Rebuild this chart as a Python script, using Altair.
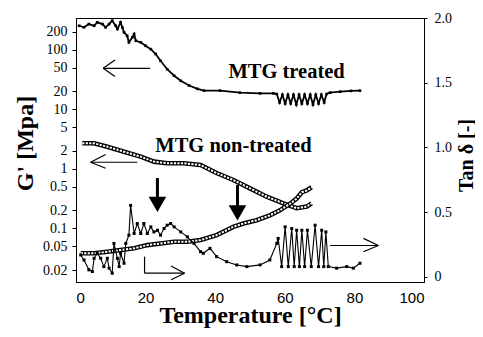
import altair as alt
import pandas as pd

# ---------------- data ----------------
# MTG treated, G' [MPa] (left, log axis)
tr_g_x = [0.9, 2.3, 3.7, 5.2, 6.1, 7.6, 8.5, 9.5, 10.4, 11.4, 11.9, 12.8, 13.3, 13.8, 14.7, 15.2,
          16.2, 16.7, 17.2, 18.6, 20.0, 21.5, 22.9, 24.3, 26.2, 28.2, 30.1, 32.5, 34.9, 36.8,
          41.4, 47.1, 52.9, 56.7, 57.7, 58.5, 59.3, 60.1, 60.9, 61.7, 62.5, 63.3, 64.1, 64.9,
          65.7, 66.5, 67.3, 68.1, 68.9, 69.7, 70.5, 71.3, 72.0, 73.0, 75.9, 79.0, 81.6]
tr_g_y = [252, 237, 269, 252, 288, 269, 237, 269, 306, 252, 222, 288, 237, 195, 171, 133,
          161, 183, 141, 133, 116, 102, 84.5, 65, 47, 36.5, 30, 25, 22, 20.5,
          20.5, 19, 18.5, 18.5, 18, 13, 17.5, 12.5, 17.5, 12.5, 17.5, 12, 17.5, 12.5,
          17.5, 12.5, 17.5, 12, 17.5, 12.5, 17.5, 13, 18, 19, 19.7, 20.3, 20.5]

# MTG non-treated, G' [MPa] (left, log axis)
nt_g_x = [1.8, 5.2, 9.0, 13.8, 18.6, 22.4, 26.2, 31.0, 35.8, 40.4, 45.2, 50.0, 54.8, 59.6, 63.4, 66.3, 67.7]
nt_g_y = [2.68, 2.68, 2.35, 1.94, 1.60, 1.32, 1.24, 1.24, 1.16, 0.85, 0.65, 0.47, 0.34, 0.264, 0.218, 0.232, 0.264]

# MTG non-treated, tan delta (right axis)
nt_t_x = [1.35, 5.2, 9.0, 12.8, 16.7, 20.5, 24.3, 28.2, 32.0, 35.8, 40.4, 45.2, 48.1, 51.9, 55.7,
          58.6, 61.5, 63.4, 64.9, 66.3, 67.7]
nt_t_y = [0.182, 0.182, 0.194, 0.207, 0.220, 0.245, 0.258, 0.271, 0.271, 0.284, 0.322, 0.386, 0.412,
          0.437, 0.475, 0.514, 0.565, 0.604, 0.654, 0.667, 0.692]

# MTG treated, tan delta (right axis)
tr_t_x = [1.35, 2.3, 3.7, 4.7, 5.2, 6.1, 7.1, 8.0, 9.0, 9.5, 10.4, 10.9, 11.9, 12.4, 12.8, 13.8,
          14.3, 15.2, 15.7, 16.7, 17.6, 18.6, 19.5, 20.5, 21.5, 22.4, 23.4, 24.3, 25.3, 26.2,
          27.2, 28.2, 30.1, 32.0, 33.9, 35.8, 36.6, 38.5, 40.4, 43.3, 46.2, 49.1, 52.9, 55.7,
          57.7, 58.1, 59.1, 60.1, 61.0, 62.0, 62.7, 63.4, 64.2, 64.9, 65.7, 66.5, 67.6, 68.7,
          69.7, 70.6, 71.2, 71.8, 72.5, 74.9, 77.8, 79.7, 81.6]
tr_t_y = [0.169, 0.130, 0.054, 0.041, 0.143, 0.182, 0.143, 0.079, 0.143, 0.067, 0.028, 0.258,
          0.143, 0.079, 0.182, 0.105, 0.258, 0.322, 0.552, 0.335, 0.412, 0.335, 0.412, 0.335,
          0.386, 0.347, 0.360, 0.322, 0.373, 0.399, 0.412, 0.386, 0.347, 0.309, 0.258, 0.194,
          0.182, 0.220, 0.156, 0.117, 0.092, 0.079, 0.092, 0.130, 0.258, 0.297, 0.079, 0.386,
          0.079, 0.373, 0.079, 0.360, 0.079, 0.360, 0.079, 0.360, 0.079, 0.399, 0.079, 0.360,
          0.079, 0.347, 0.079, 0.067, 0.079, 0.067, 0.105]

# annotations
label_text = ["MTG treated", "MTG non-treated"]
label_x = [43.8, 22.8]
label_y = [33.0, 1.94]

# thin arrows on G' scale: x, y, x2, y2
g_arrow_x = [7.8, 7.8, 7.8, 4.2, 4.2, 4.2]
g_arrow_y = [48.6, 48.6, 48.6, 1.29, 1.29, 1.29]
g_arrow_x2 = [21.3, 11.2, 11.2, 17.6, 8.5, 8.5]
g_arrow_y2 = [48.6, 67.0, 35.3, 1.29, 1.74, 1.02]

# thin arrows on tan delta scale
t_arrow_x = [19.7, 19.7, 31.2, 31.2, 73.0, 86.9, 86.9]
t_arrow_y = [0.156, 0.028, 0.028, 0.028, 0.242, 0.242, 0.242]
t_arrow_x2 = [19.7, 31.2, 27.3, 27.3, 86.9, 82.6, 82.6]
t_arrow_y2 = [0.028, 0.028, 0.084, -0.023, 0.242, 0.297, 0.194]

# bold down arrows (G' scale)
down_x = [23.4, 46.4]
down_top = [0.702, 0.536]
down_bot = [0.312, 0.238]
down_head = [0.252, 0.182]

x_ticks = [0, 20, 40, 60, 80, 100]
g_ticks = [0.02, 0.05, 0.1, 0.2, 0.5, 1, 2, 5, 10, 20, 50, 100, 200]
t_ticks = [0, 0.5, 1.0, 1.5, 2.0]

# ---------------- frames ----------------
df_trg = pd.DataFrame({"x": tr_g_x, "y": tr_g_y})
df_ntg = pd.DataFrame({"x": nt_g_x, "y": nt_g_y})
df_ntt = pd.DataFrame({"x": nt_t_x, "y": nt_t_y})
df_trt = pd.DataFrame({"x": tr_t_x, "y": tr_t_y})
df_lab = pd.DataFrame({"x": label_x, "y": label_y, "t": label_text})
df_ga = pd.DataFrame({"x": g_arrow_x, "y": g_arrow_y, "x2": g_arrow_x2, "y2": g_arrow_y2})
df_ta = pd.DataFrame({"x": t_arrow_x, "y": t_arrow_y, "x2": t_arrow_x2, "y2": t_arrow_y2})
df_dn = pd.DataFrame({"x": down_x, "y": down_top, "y2": down_bot, "h": down_head})

SERIF = "Liberation Serif"
xscale = alt.Scale(domain=[0, 100], nice=False, zero=False)
gscale = alt.Scale(type="log", domain=[0.0126, 340], nice=False)
tscale = alt.Scale(domain=[-0.04, 2.0], nice=False, zero=False)

xaxis = alt.Axis(values=x_ticks, format="d", title="Temperature [°C]", grid=False,
                 labelFont="Liberation Sans", labelFontSize=15, labelColor="black",
                 tickSize=0, labelPadding=8, domainColor="black",
                 titleFont=SERIF, titleFontSize=24, titleFontWeight="bold", titleColor="black",
                 titleY=40, titleBaseline="alphabetic")
gaxis = alt.Axis(values=g_ticks, labelExpr="'' + datum.value", title="G' [Mpa]", grid=False,
                 labelFont=SERIF, labelFontSize=14, labelColor="black", labelOverlap=False,
                 tickSize=4, tickColor="black", labelPadding=5, domainColor="black",
                 titleFont=SERIF, titleFontSize=24, titleFontWeight="bold", titleColor="black",
                 titleX=-51, titleY=125, titleAngle=270, titleAlign="center", titleBaseline="middle")
taxis = alt.Axis(values=t_ticks, orient="right",
                 labelExpr="datum.value == 0 ? '0' : format(datum.value, '.1f')",
                 title="Tan δ [-]", grid=False,
                 labelFont=SERIF, labelFontSize=14, labelColor="black", labelOverlap=False,
                 tickSize=3, tickColor="black", labelPadding=7, domainColor="black",
                 titleFont=SERIF, titleFontSize=20, titleFontWeight="bold", titleColor="black",
                 titleX=42, titleY=137, titleAngle=270, titleAlign="center", titleBaseline="middle")

X = alt.X("x:Q", scale=xscale, axis=xaxis)

trg = alt.Chart(df_trg).mark_line(color="black", strokeWidth=1.8,
                                  point=alt.OverlayMarkDef(shape="square", size=7, filled=True, color="black")
                                  ).encode(x=X, y=alt.Y("y:Q", scale=gscale, axis=gaxis))

ntg_outer = alt.Chart(df_ntg).mark_line(color="black", strokeWidth=4.6).encode(
    x=X, y=alt.Y("y:Q", scale=gscale, axis=None))
ntg_inner = alt.Chart(df_ntg).mark_line(color="white", strokeWidth=2.0, strokeDash=[2.2, 1.3]).encode(
    x=X, y=alt.Y("y:Q", scale=gscale, axis=None))

ntt_outer = alt.Chart(df_ntt).mark_line(color="black", strokeWidth=4.6).encode(
    x=X, y=alt.Y("y:Q", scale=tscale, axis=taxis))
ntt_inner = alt.Chart(df_ntt).mark_line(color="white", strokeWidth=2.0, strokeDash=[2.2, 1.3]).encode(
    x=X, y=alt.Y("y:Q", scale=tscale, axis=None))

trt = alt.Chart(df_trt).mark_line(color="black", strokeWidth=1.1,
                                  point=alt.OverlayMarkDef(shape="square", size=9, filled=True, color="black")
                                  ).encode(x=X, y=alt.Y("y:Q", scale=tscale, axis=None))

labels = alt.Chart(df_lab).mark_text(font=SERIF, fontSize=20.5, fontWeight="bold", align="left",
                                     baseline="alphabetic", color="black").encode(
    x=X, y=alt.Y("y:Q", scale=gscale, axis=None), text="t:N")

garrows = alt.Chart(df_ga).mark_rule(color="black", strokeWidth=1.2).encode(
    x=X, x2="x2:Q", y=alt.Y("y:Q", scale=gscale, axis=None), y2="y2:Q")
tarrows = alt.Chart(df_ta).mark_rule(color="black", strokeWidth=1.2).encode(
    x=X, x2="x2:Q", y=alt.Y("y:Q", scale=tscale, axis=None), y2="y2:Q")

dshaft = alt.Chart(df_dn).mark_rule(color="black", strokeWidth=3).encode(
    x=X, y=alt.Y("y:Q", scale=gscale, axis=None), y2="y2:Q")
dhead = alt.Chart(df_dn).mark_point(shape="triangle-down", size=310, filled=True, color="black",
                                    opacity=1).encode(
    x=X, y=alt.Y("h:Q", scale=gscale, axis=None))

chart = alt.layer(trg, ntg_outer, ntg_inner, ntt_outer, ntt_inner, trt, labels,
                  garrows, tarrows, dshaft, dhead).resolve_scale(y="independent").properties(
    width=348, height=264,
    autosize=alt.AutoSizeParams(type="none"),
    padding={"left": 68, "top": 10, "right": 51, "bottom": 47},
    background="white",
).configure_view(stroke="black", strokeWidth=1)

chart.save("out.html", embed_options={"renderer": "svg", "actions": False})
